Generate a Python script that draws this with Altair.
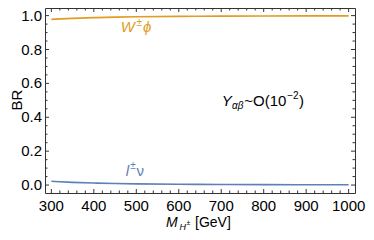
import altair as alt
import pandas as pd

# ---------------- data ----------------
mass = [300, 350, 400, 450, 500, 600, 700, 800, 900, 1000]
br_wphi = [0.978, 0.984, 0.988, 0.991, 0.993, 0.9955, 0.997, 0.9978, 0.9983, 0.9987]
br_lnu = [0.022, 0.016, 0.012, 0.009, 0.007, 0.0045, 0.003, 0.0022, 0.0017, 0.0013]

x_major = [300, 400, 500, 600, 700, 800, 900, 1000]
x_labels = ["300", "400", "500", "600", "700", "800", "900", "1000"]
x_minor = [320, 340, 360, 380, 420, 440, 460, 480, 520, 540, 560, 580,
           620, 640, 660, 680, 720, 740, 760, 780, 820, 840, 860, 880,
           920, 940, 960, 980]
y_major = [0.0, 0.2, 0.4, 0.6, 0.8, 1.0]
y_labels = ["0.0", "0.2", "0.4", "0.6", "0.8", "1.0"]
y_minor = [0.05, 0.1, 0.15, 0.25, 0.3, 0.35, 0.45, 0.5, 0.55, 0.65, 0.7, 0.75,
           0.85, 0.9, 0.95]

ORANGE = "#E19C24"
BLUE = "#5E81B5"
FRAME = "#333333"
FONT = "Liberation Sans"

LEFT, TOP = 37, 0
W, H = 310, 185
xscale = alt.Scale(domain=[285, 1015], nice=False, zero=False)
yscale = alt.Scale(domain=[-0.047, 1.045], nice=False, zero=False)

def X(field):
    return alt.X(field, scale=xscale, axis=None)

def Y(field):
    return alt.Y(field, scale=yscale, axis=None)

df = pd.DataFrame({"m": mass, "wphi": br_wphi, "lnu": br_lnu})

base = alt.Chart(df)
line_w = base.mark_line(color=ORANGE, strokeWidth=1.6, interpolate="monotone").encode(
    x=X("m:Q"), y=Y("wphi:Q"))
line_l = base.mark_line(color=BLUE, strokeWidth=1.6, interpolate="monotone").encode(
    x=X("m:Q"), y=Y("lnu:Q"))

def xticks(vals, length):
    d = alt.Chart(pd.DataFrame({"v": vals}))
    bot = d.mark_rule(color=FRAME, strokeWidth=1).encode(
        x=X("v:Q"), y=alt.value(H), y2=alt.value(H - length))
    top = d.mark_rule(color=FRAME, strokeWidth=1).encode(
        x=X("v:Q"), y=alt.value(0), y2=alt.value(length))
    return [bot, top]

def yticks(vals, length):
    d = alt.Chart(pd.DataFrame({"v": vals}))
    left = d.mark_rule(color=FRAME, strokeWidth=1).encode(
        y=Y("v:Q"), x=alt.value(0), x2=alt.value(length))
    right = d.mark_rule(color=FRAME, strokeWidth=1).encode(
        y=Y("v:Q"), x=alt.value(W), x2=alt.value(W - length))
    return [left, right]

tick_layers = xticks(x_major, 4) + xticks(x_minor, 2.5) + yticks(y_major, 4) + yticks(y_minor, 2.5)

# tick labels drawn through the scales
xlab = alt.Chart(pd.DataFrame({"v": x_major, "t": x_labels})).mark_text(
    font=FONT, fontSize=15, color="black", align="center", baseline="middle").encode(
    x=X("v:Q"), y=alt.value(H + 12.5), text="t:N")
ylab = alt.Chart(pd.DataFrame({"v": y_major, "t": y_labels})).mark_text(
    font=FONT, fontSize=15, color="black", align="right", baseline="middle").encode(
    y=Y("v:Q"), x=alt.value(-3), text="t:N")

one = pd.DataFrame({"a": [0]})

def mapx(px):
    # reference-page x -> this layout's page x
    return 51.4 + (px - 52.5) * 0.9844

def mapy(py):
    return 15.6 + (py - 9.5) * (169.4 / 176.0)

def txt(s, x, y, size=15, style="normal", color="black", angle=0, align="left", remap=True):
    if remap:
        x, y = mapx(x), mapy(y)
    return alt.Chart(one).mark_text(
        text=s, x=x - 8 - LEFT, y=y - 8 - TOP, fontSize=size, fontStyle=style, font=FONT,
        color=color, align=align, baseline="alphabetic", angle=angle)

texts = [
    # W± phi label
    txt("W", 123, 27, 15, "italic", ORANGE),
    txt("±", 139, 20, 10, "normal", ORANGE),
    txt("ϕ", 145.5, 27, 15, "italic", ORANGE),
    # l± nu label
    txt("l", 128, 176, 15, "italic", BLUE),
    txt("±", 132.5, 169, 10, "normal", BLUE),
    txt("ν", 139, 176, 15, "normal", BLUE),
    # Yukawa annotation
    txt("Y", 225.5, 103, 15, "italic"),
    txt("αβ", 236, 107, 10, "italic"),
    txt("~O(10", 248.5, 103, 15),
    txt("−2", 292, 96, 10),
    txt(")", 304, 103, 15),
    # x title
    txt("M", 166, 227, 14, "italic", remap=False),
    txt("H", 179.5, 229.5, 9, "italic", remap=False),
    txt("±", 186.5, 224.5, 7, remap=False),
    txt("[GeV]", 195, 227, 14, remap=False),
    # y title
    txt("BR", 22, 100, 15, "normal", "black", 270, "center", remap=False),
]

chart = alt.layer(line_w, line_l, *tick_layers, xlab, ylab, *texts).properties(
    width=W, height=H,
    autosize="none",
    padding={"left": LEFT, "top": TOP, "right": 358 - LEFT - W, "bottom": 224 - H},
).configure_view(stroke=FRAME, strokeWidth=1)

chart.save("out.html", embed_options={"renderer": "svg", "actions": False})
